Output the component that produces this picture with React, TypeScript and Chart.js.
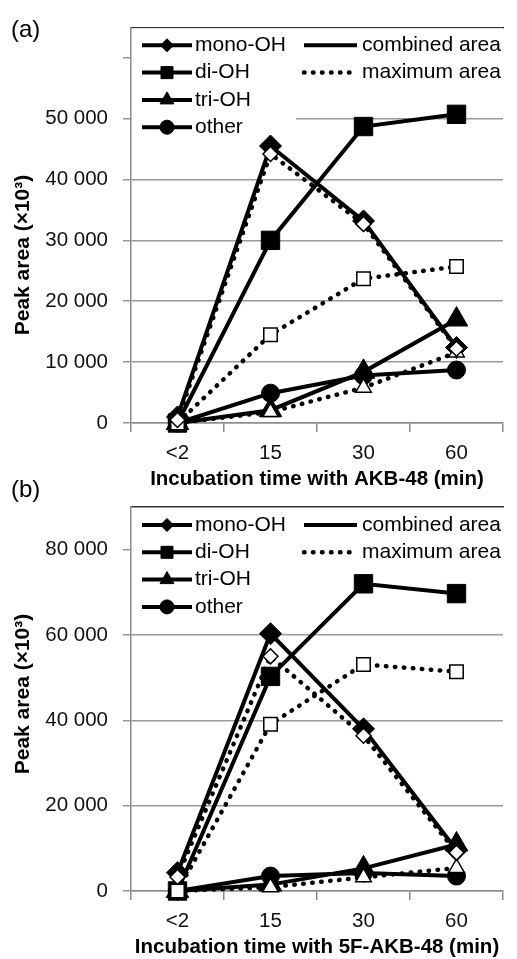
import React, { useEffect, useRef } from 'react';
import { Chart, registerables } from 'chart.js';
import { drawPoint } from 'chart.js/helpers';

Chart.register(...registerables);

// ---------- data ----------
const categories = ['<2', '15', '30', '60'];
const seriesNames = ['mono-OH', 'di-OH', 'tri-OH', 'other'];
const styleNames = ['combined area', 'maximum area'];

// panel (a): AKB-48
const monoCombinedA = [1000, 45500, 33200, 12400];
const diCombinedA = [0, 30000, 48700, 50700];
const triCombinedA = [0, 2100, 8400, 17000];
const otherCombinedA = [0, 4900, 7800, 8700];
const monoMaxA = [500, 44200, 32700, 12200];
const diMaxA = [0, 14500, 23700, 25700];
const triMaxA = [0, 1800, 5800, 11600];
const yTickValuesA = [0, 10000, 20000, 30000, 40000, 50000, 60000];
const yTickLabelsA = ['0', '10 000', '20 000', '30 000', '40 000', '50 000', ''];

// panel (b): 5F-AKB-48
const monoCombinedB = [4300, 60300, 38000, 9600];
const diCombinedB = [0, 50300, 72000, 69700];
const triCombinedB = [0, 1500, 5300, 10900];
const otherCombinedB = [0, 3500, 4200, 3500];
const monoMaxB = [3300, 55000, 36400, 9000];
const diMaxB = [0, 39100, 53100, 51400];
const triMaxB = [0, 900, 3200, 5400];
const yTickValuesB = [0, 20000, 40000, 60000, 80000];
const yTickLabelsB = ['0', '20 000', '40 000', '60 000', '80 000'];

// ---------- styles ----------
const FONT = '"Liberation Sans", Arial, sans-serif';
type Marker = { style: string; r: number };
const filledMarkers: Marker[] = [
  { style: 'rectRot', r: 11 },
  { style: 'rect', r: 13 },
  { style: 'triangle', r: 13 },
  { style: 'circle', r: 9 },
];
const openMarkers: Marker[] = [
  { style: 'rectRot', r: 7.5 },
  { style: 'rect', r: 9.5 },
  { style: 'triangle', r: 9 },
  { style: 'circle', r: 7 },
];
const legendMarkers: Marker[] = [
  { style: 'rectRot', r: 6.5 },
  { style: 'rect', r: 8.5 },
  { style: 'triangle', r: 8 },
  { style: 'circle', r: 7 },
];
const DOT_DASH = [0.5, 8.5];
const GRID = '#999';
const AXIS = '#8c8c8c';

type PanelCfg = {
  tag: string;
  xTitle: string;
  combined: number[][];
  maxima: number[][];
  yMax: number;
  yTickValues: number[];
  yTickLabels: string[];
  top: number;
  height: number;
  padTop: number;
  xAxisHeight: number;
  titlePad: number;
  tagY: number;
  yTitleY: number;
};

const panels: PanelCfg[] = [
  {
    tag: '(a)',
    xTitle: 'Incubation time with AKB-48 (min)',
    combined: [monoCombinedA, diCombinedA, triCombinedA, otherCombinedA],
    maxima: [monoMaxA, diMaxA, triMaxA],
    yMax: 65000,
    yTickValues: yTickValuesA,
    yTickLabels: yTickLabelsA,
    top: 0,
    height: 500,
    padTop: 24,
    xAxisHeight: 77,
    titlePad: 9.7,
    tagY: 30.5,
    yTitleY: 255,
  },
  {
    tag: '(b)',
    xTitle: 'Incubation time with 5F-AKB-48 (min)',
    combined: [monoCombinedB, diCombinedB, triCombinedB, otherCombinedB],
    maxima: [monoMaxB, diMaxB, triMaxB],
    yMax: 90000,
    yTickValues: yTickValuesB,
    yTickLabels: yTickLabelsB,
    top: 470,
    height: 489,
    padTop: 37,
    xAxisHeight: 68,
    titlePad: 0,
    tagY: 20,
    yTitleY: 224,
  },
];

function buildDatasets(combined: number[][], maxima: number[][]) {
  const sets: any[] = [];
  combined.forEach((values, i) => {
    sets.push({
      label: `${seriesNames[i]} (${styleNames[0]})`,
      data: values,
      borderColor: '#000',
      backgroundColor: '#000',
      borderWidth: 4,
      pointStyle: filledMarkers[i].style,
      pointRadius: filledMarkers[i].r,
      pointBackgroundColor: '#000',
      pointBorderColor: '#000',
      pointBorderWidth: 1,
      order: 1,
      clip: false,
    });
  });
  maxima.forEach((values, i) => {
    sets.push({
      label: `${seriesNames[i]} (${styleNames[1]})`,
      data: values,
      borderColor: '#000',
      backgroundColor: '#fff',
      borderWidth: 4.5,
      borderDash: DOT_DASH,
      borderCapStyle: 'round',
      pointStyle: openMarkers[i].style,
      pointRadius: openMarkers[i].r,
      pointBackgroundColor: '#fff',
      pointBorderColor: '#000',
      pointBorderWidth: 1.5,
      order: 0,
      clip: false,
    });
  });
  return sets;
}

function makeDecor(cfg: PanelCfg) {
  return {
    id: 'panelDecor',
    beforeDatasetsDraw(chart: any) {
      const { ctx, chartArea: ca } = chart;
      ctx.save();
      ctx.fillStyle = '#fff';
      // legend boxes hide the grid lines behind them
      ctx.fillRect(ca.left + 1, ca.top + 1, 164, 112);
      ctx.fillRect(ca.left + 164, ca.top + 1, ca.right - ca.left - 164, 74);
      ctx.restore();
    },
    afterDatasetsDraw(chart: any) {
      const { ctx, chartArea: ca } = chart;
      const L = ca.left;
      const rowY = (i: number) => ca.top + 18 + i * 27.3;
      ctx.save();
      ctx.font = `21px ${FONT}`;
      ctx.textBaseline = 'middle';
      ctx.textAlign = 'left';
      seriesNames.forEach((name, i) => {
        const y = rowY(i);
        ctx.setLineDash([]);
        ctx.lineCap = 'butt';
        ctx.strokeStyle = '#000';
        ctx.lineWidth = 4;
        ctx.beginPath();
        ctx.moveTo(L + 11, y);
        ctx.lineTo(L + 61, y);
        ctx.stroke();
        ctx.fillStyle = '#000';
        ctx.lineWidth = 1;
        drawPoint(ctx, { pointStyle: legendMarkers[i].style, radius: legendMarkers[i].r, rotation: 0, borderWidth: 1 } as any, L + 36, y);
        ctx.fillStyle = '#000';
        ctx.fillText(name, L + 64, y);
      });
      styleNames.forEach((name, i) => {
        const y = rowY(i);
        ctx.strokeStyle = '#000';
        if (i === 0) {
          ctx.lineWidth = 4;
          ctx.setLineDash([]);
          ctx.lineCap = 'butt';
        } else {
          ctx.lineWidth = 4.5;
          ctx.setLineDash(DOT_DASH);
          ctx.lineCap = 'round';
        }
        ctx.beginPath();
        ctx.moveTo(L + 173, y);
        ctx.lineTo(L + 226, y);
        ctx.stroke();
        ctx.setLineDash([]);
        ctx.fillStyle = '#000';
        ctx.fillText(name, L + 231, y);
      });
      ctx.restore();
    },
    afterDraw(chart: any) {
      const { ctx } = chart;
      ctx.save();
      ctx.fillStyle = '#000';
      ctx.font = `24px ${FONT}`;
      ctx.textBaseline = 'middle';
      ctx.textAlign = 'left';
      ctx.fillText(cfg.tag, 11, cfg.tagY);
      ctx.font = `bold 21px ${FONT}`;
      ctx.translate(23, cfg.yTitleY);
      ctx.rotate(-Math.PI / 2);
      ctx.textAlign = 'center';
      ctx.fillText('Peak area (×10³)', 0, 0);
      ctx.restore();
    },
  };
}

function PanelChart({ cfg }: { cfg: PanelCfg }) {
  const ref = useRef<HTMLCanvasElement>(null);
  useEffect(() => {
    const canvas = ref.current;
    if (!canvas) return;
    const chart = new Chart(canvas, {
      type: 'line',
      data: { labels: categories, datasets: buildDatasets(cfg.combined, cfg.maxima) },
      options: {
        animation: false,
        responsive: false,
        maintainAspectRatio: false,
        devicePixelRatio: 1,
        events: [],
        layout: { padding: { top: cfg.padTop, left: 0, right: 0, bottom: 0 } },
        elements: { line: { tension: 0 } },
        plugins: { legend: { display: false }, tooltip: { enabled: false }, title: { display: false } },
        scales: {
          x: {
            type: 'category',
            offset: true,
            grid: { offset: true, drawOnChartArea: false, tickLength: 9, color: AXIS, lineWidth: 1.5 },
            border: { color: AXIS, width: 1.5 },
            ticks: { font: { family: FONT, size: 20.5 }, color: '#111', padding: 9, maxRotation: 0, autoSkip: false },
            title: {
              display: true,
              text: cfg.xTitle,
              color: '#000',
              font: { family: FONT, size: 20.5, weight: 'bold', lineHeight: 1.1 },
              padding: { top: 0, bottom: cfg.titlePad },
            },
            afterFit: (s: any) => {
              s.height = cfg.xAxisHeight;
            },
          },
          xTop: {
            type: 'category',
            position: 'top',
            grid: { drawOnChartArea: false, drawTicks: false },
            border: { display: true, color: '#333', width: 1.5 },
            ticks: { display: false },
            afterFit: (s: any) => {
              s.height = 0;
            },
          },
          y: {
            type: 'linear',
            min: 0,
            max: cfg.yMax,
            grid: { color: GRID, lineWidth: 1.5, tickLength: 8 },
            border: { color: AXIS, width: 1.5 },
            ticks: {
              autoSkip: false,
              padding: 15,
              color: '#111',
              font: { family: FONT, size: 20.5 },
              callback: (_v: any, i: number) => cfg.yTickLabels[i] ?? '',
            },
            afterBuildTicks: (s: any) => {
              s.ticks = cfg.yTickValues.map((value) => ({ value }));
            },
            afterFit: (s: any) => {
              s.width = 131;
            },
          },
        },
      } as any,
      plugins: [makeDecor(cfg)],
    });
    return () => chart.destroy();
  }, [cfg]);
  return (
    <canvas
      ref={ref}
      width={517}
      height={cfg.height}
      style={{ position: 'absolute', left: 0, top: cfg.top, width: 517, height: cfg.height, display: 'block' }}
    />
  );
}

export default function App() {
  return (
    <div style={{ position: 'absolute', left: 0, top: 0, width: 517, height: 959, background: '#fff', overflow: 'hidden' }}>
      {panels.map((p) => (
        <PanelChart key={p.tag} cfg={p} />
      ))}
    </div>
  );
}
